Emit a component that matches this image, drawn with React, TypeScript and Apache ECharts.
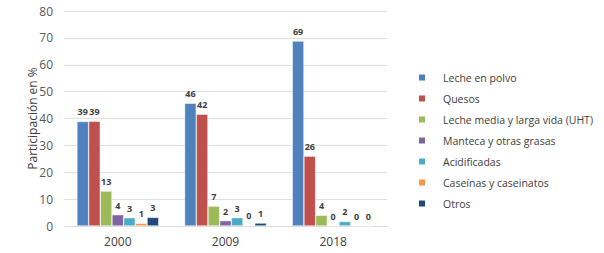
import React, { useEffect, useRef } from "react";
import * as echarts from "echarts";

const categories = ["2000", "2009", "2018"];
const seriesNames = [
  "Leche en polvo",
  "Quesos",
  "Leche media y larga vida (UHT)",
  "Manteca y otras grasas",
  "Acidificadas",
  "Caseínas y caseinatos",
  "Otros",
];
const lechePolvo = [38.9, 45.7, 68.8];
const quesos = [39.0, 41.6, 26.0];
const lecheUHT = [13.0, 7.4, 4.0];
const manteca = [4.2, 2.0, 0];
const acidificadas = [3.1, 3.1, 1.7];
const caseinas = [1.0, 0.2, 0];
const otros = [3.2, 1.1, 0];
const colors = ["#4F81BD", "#C0504D", "#9BBB59", "#8064A2", "#4BACC6", "#F79646", "#1F497D"];
const yTicks = { min: 0, max: 80, interval: 10 };

const FONT = "'Open Sans', sans-serif";

export default function App() {
  const ref = useRef<HTMLDivElement>(null);
  useEffect(() => {
    if (!ref.current) return;
    const chart = echarts.init(ref.current, undefined, { renderer: "svg" });
    const values = [lechePolvo, quesos, lecheUHT, manteca, acidificadas, caseinas, otros];
    chart.setOption({
      animation: false,
      color: colors,
      textStyle: { fontFamily: FONT },
      grid: { left: 64, right: 217, top: 11, bottom: 27 },
      legend: {
        orient: "vertical",
        left: 412,
        top: 67,
        itemWidth: 8,
        itemHeight: 8,
        itemGap: 10,
        icon: "rect",
        textStyle: { fontSize: 10.5, color: "#404040", fontFamily: FONT, padding: [0, 0, 0, 12] },
        data: seriesNames,
      },
      xAxis: {
        type: "category",
        data: categories,
        axisTick: { show: false },
        axisLine: { lineStyle: { color: "#d9d9d9" } },
        axisLabel: { fontSize: 12, color: "#404040", margin: 9, fontFamily: FONT },
      },
      yAxis: {
        type: "value",
        min: yTicks.min,
        max: yTicks.max,
        interval: yTicks.interval,
        name: "Participación en %",
        nameLocation: "middle",
        nameGap: 26,
        nameMoveOverlap: false,
        nameTextStyle: { fontSize: 12, color: "#404040", fontFamily: FONT },
        axisLabel: { fontSize: 12, color: "#595959", margin: 11, fontFamily: FONT },
        splitLine: { lineStyle: { color: "#e0e0e0" } },
      },
      series: seriesNames.map((name, i) => ({
        name,
        type: "bar",
        data: values[i],
        barGap: 0,
        barCategoryGap: "24%",
        itemStyle: { borderColor: "#ffffff", borderWidth: 0.5 },
        label: {
          show: true,
          position: "top",
          distance: 5,
          fontSize: 9,
          fontWeight: "bold",
          color: "#404040",
          fontFamily: FONT,
          formatter: (p: any) => String(Math.round(p.value)),
        },
      })),
    });
    return () => chart.dispose();
  }, []);
  return <div ref={ref} style={{ width: 604, height: 253, position: "absolute", left: 0, top: 0 }} />;
}
